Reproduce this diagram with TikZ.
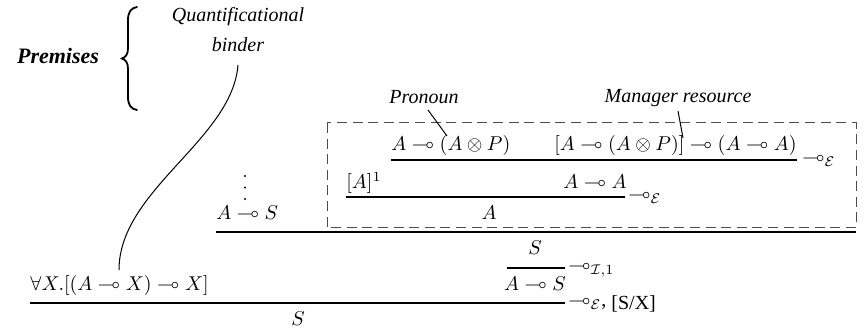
\documentclass[tikz,border=0pt]{standalone}
\usepackage{amsmath,amssymb}
\usepackage[no-math]{fontspec}
\setmainfont{Liberation Serif}
\begin{document}
\begin{tikzpicture}[x=0.5pt,y=-0.5pt,
  fml/.style={inner sep=0pt, anchor=base},
  prule/.style={line width=1pt},
  lbl/.style={font=\itshape, inner sep=0pt, anchor=base},
  rname/.style={inner sep=0pt, anchor=base west},
  conn/.style={line width=0.5pt},
  dotmark/.style={circle, fill=black, inner sep=0pt, minimum size=1.1pt},
  bracepath/.style={line width=0.9pt, line cap=round},
  dbox/.style={draw=black!70, line width=0.5pt, dash pattern=on 5pt off 2.8pt}]
\useasboundingbox (0,0) rectangle (865,330);

% premises label and brace
\node[font=\fontsize{11}{13}\selectfont\bfseries\itshape, inner sep=0pt, anchor=base] (prem) at (58,64) {Premises};
\draw[bracepath] (137,7) .. controls (131,8) and (128,12) .. (128,20) -- (128,48)
  .. controls (128,54) and (126,57) .. (122,58.5)
  .. controls (126,60) and (128,63) .. (128,69) -- (128,97)
  .. controls (128,105) and (131,109) .. (137,110);

% quantificational binder label
\node[lbl] (q1) at (238,22) {Quantificational};
\node[lbl] (q2) at (238,52) {binder};

% dashed box
\draw[dbox] (327,123) rectangle (856,228);

% labels above the box
\node[lbl] (pron) at (424,104) {Pronoun};
\node[lbl] (mgr) at (678,103) {Manager resource};

% row 1
\node[fml, anchor=base west] (p1) at (391,151) {$A \multimap (A\otimes P)$};
\node[fml, anchor=base east] (p2) at (797,151) {$[A\multimap(A\otimes P)]\multimap(A\multimap A)$};
\draw[prule] (p1.west |- 0,160) -- (p2.east |- 0,160);
\node[rname] (r1) at (802,164) {$\multimap_{\mathcal{E}}$};

% row 2
\node[fml, anchor=base west] (a1) at (346,189) {$[A]^1$};
\node[fml] (aa) at (595,189) {$A\multimap A$};
\draw[prule] (a1.west |- 0,197) -- (625,197);
\node[rname] (r2) at (628,201) {$\multimap_{\mathcal{E}}$};
\node[fml] (a2) at (489,220) {$A$};

% left branch (vertical dots)
\node[dotmark] (d1) at (245,176) {};
\node[dotmark] (d2) at (245,187.5) {};
\node[dotmark] (d3) at (245,199) {};
\node[fml, anchor=base west] (as1) at (216,220) {$A\multimap S$};
\draw[prule] (as1.west |- 0,232) -- (856,232);

% S and introduction
\node[fml] (s1) at (535,255) {$S$};
\node[fml] (as2) at (535,291) {$A\multimap S$};
\draw[prule] (507,268) -- (565,268);
\node[rname] (r3) at (568,272) {$\multimap_{\mathcal{I},1}$};

% quantifier premise and final step
\node[fml, anchor=base west] (qb) at (30,291) {$\forall X.[(A\multimap X)\multimap X]$};
\draw[prule] (qb.west |- 0,303) -- (565,303);
\node[rname] (r4) at (568,307) {$\multimap_{\mathcal{E}}$, \raisebox{-1.5pt}{[S/X]}};
\node[fml] (s2) at (298,326) {$S$};

% connectors
\coordinate (cq0) at (238,65);
\coordinate (cq1) at (119,270);
\draw[conn] (cq0) .. controls (232,140) and (119,190) .. (cq1);
\coordinate (cp0) at (428,110);
\coordinate (cp1) at (447,136);
\draw[conn] (cp0) -- (cp1);
\coordinate (cm0) at (678,111);
\coordinate (cm1) at (683,138);
\draw[conn] (cm0) -- (cm1);
\end{tikzpicture}
\end{document}
